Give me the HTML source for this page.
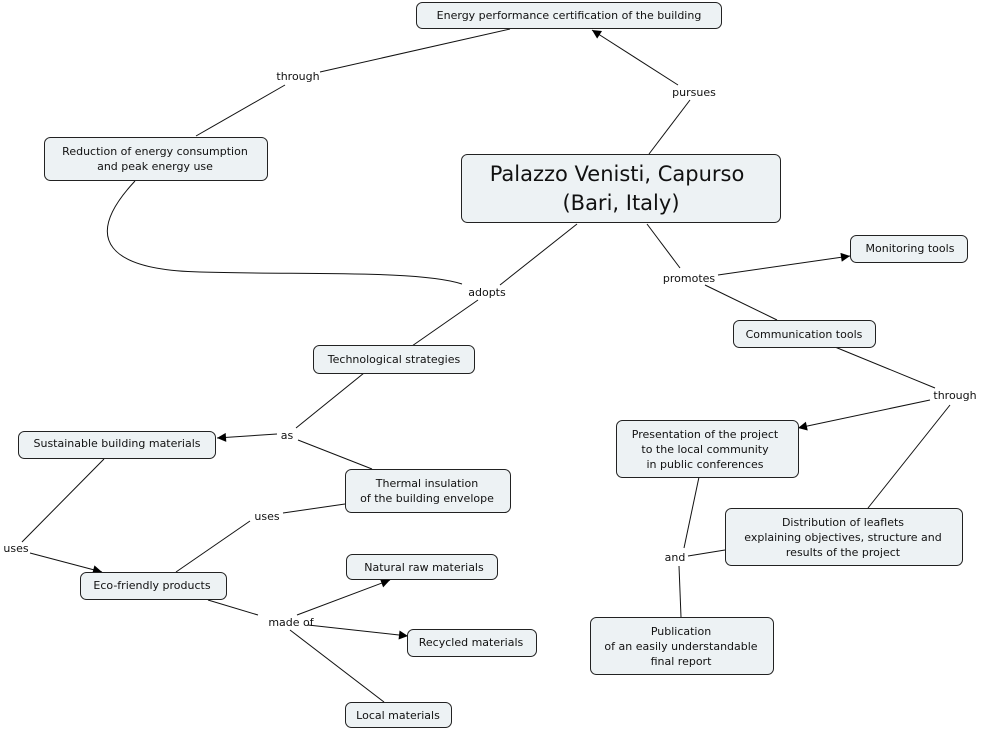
<!DOCTYPE html>
<html><head><meta charset="utf-8"><style>
body{margin:0;background:#fff}
svg{display:block}
text{font-family:"DejaVu Sans","Liberation Sans",sans-serif;font-size:11px;fill:#111}
.n{fill:#edf2f4;stroke:#222;stroke-width:1}
.l{stroke:#111;stroke-width:1;fill:none}
.lb{fill:#fff}
</style></head><body>
<svg width="982" height="729" viewBox="0 0 982 729" xmlns="http://www.w3.org/2000/svg">
<defs><marker id="a" viewBox="0 0 10 10" refX="10" refY="5" markerWidth="11" markerHeight="9" markerUnits="userSpaceOnUse" orient="auto"><path d="M0,0L10,5L0,10z" fill="#000"/></marker></defs>
<g class="l">
<line x1="196" y1="136" x2="285" y2="85"/>
<line x1="320" y1="72" x2="510" y2="29"/>
<line x1="649" y1="154" x2="690" y2="100"/>
<line x1="678" y1="85" x2="592" y2="30" marker-end="url(#a)"/>
<line x1="577" y1="224" x2="500" y2="285"/>
<path d="M462,284 C420,270 300,275 200,272 C110,270 80,240 135,181"/>
<line x1="478" y1="300" x2="412" y2="346"/>
<line x1="647" y1="224" x2="680" y2="268"/>
<line x1="718" y1="275" x2="850" y2="256" marker-end="url(#a)"/>
<line x1="705" y1="285" x2="777" y2="320"/>
<line x1="835" y1="347" x2="935" y2="388"/>
<line x1="930" y1="400" x2="798" y2="428" marker-end="url(#a)"/>
<line x1="950" y1="405" x2="868" y2="508"/>
<line x1="364" y1="373" x2="296" y2="428"/>
<line x1="277" y1="434" x2="217" y2="438" marker-end="url(#a)"/>
<line x1="298" y1="440" x2="372" y2="469"/>
<line x1="104" y1="459" x2="22" y2="542"/>
<line x1="30" y1="553" x2="102" y2="572" marker-end="url(#a)"/>
<line x1="176" y1="572" x2="250" y2="521"/>
<line x1="283" y1="513" x2="345" y2="504"/>
<line x1="208" y1="600" x2="258" y2="615"/>
<line x1="297" y1="615" x2="390" y2="580" marker-end="url(#a)"/>
<line x1="308" y1="625" x2="408" y2="636" marker-end="url(#a)"/>
<line x1="290" y1="630" x2="384" y2="702"/>
<line x1="699" y1="477" x2="684" y2="548"/>
<line x1="688" y1="556" x2="725" y2="550"/>
<line x1="679" y1="566" x2="681" y2="617"/>
</g>
<g class="n">
<rect x="416.5" y="2.5" width="305" height="26" rx="6"/>
<rect x="461.5" y="154.5" width="319" height="68" rx="6"/>
<rect x="44.5" y="137.5" width="223" height="43" rx="6"/>
<rect x="850.5" y="235.5" width="117" height="27" rx="6"/>
<rect x="733.5" y="320.5" width="142" height="27" rx="6"/>
<rect x="313.5" y="345.5" width="161" height="28" rx="6"/>
<rect x="18.5" y="431.5" width="197" height="27" rx="6"/>
<rect x="345.5" y="469.5" width="165" height="43" rx="6"/>
<rect x="616.5" y="420.5" width="182" height="57" rx="6"/>
<rect x="725.5" y="508.5" width="237" height="57" rx="6"/>
<rect x="80.5" y="572.5" width="146" height="27" rx="6"/>
<rect x="346.5" y="554.5" width="151" height="25" rx="6"/>
<rect x="407.5" y="629.5" width="129" height="27" rx="6"/>
<rect x="345.5" y="702.5" width="106" height="25" rx="6"/>
<rect x="590.5" y="617.5" width="183" height="57" rx="6"/>
</g>
<g text-anchor="middle">
<text x="569" y="19">Energy performance certification of the building</text>
<text x="617" y="181" style="font-size:21px">Palazzo Venisti, Capurso</text>
<text x="621" y="210" style="font-size:21px">(Bari, Italy)</text>
<text x="155" y="155">Reduction of energy consumption</text>
<text x="155" y="170">and peak energy use</text>
<text x="910" y="252">Monitoring tools</text>
<text x="804" y="338">Communication tools</text>
<text x="394" y="363">Technological strategies</text>
<text x="117" y="447">Sustainable building materials</text>
<text x="427" y="487">Thermal insulation</text>
<text x="427" y="502">of the building envelope</text>
<text x="705" y="438">Presentation of the project</text>
<text x="705" y="453">to the local community</text>
<text x="705" y="468">in public conferences</text>
<text x="843" y="526">Distribution of leaflets</text>
<text x="843" y="541">explaining objectives, structure and</text>
<text x="843" y="556">results of the project</text>
<text x="152" y="589">Eco-friendly products</text>
<text x="424" y="571">Natural raw materials</text>
<text x="471" y="646">Recycled materials</text>
<text x="398" y="719">Local materials</text>
<text x="681" y="635">Publication</text>
<text x="681" y="650">of an easily understandable</text>
<text x="681" y="665">final report</text>
<text x="298" y="80">through</text>
<text x="694" y="96">pursues</text>
<text x="487" y="296">adopts</text>
<text x="689" y="282">promotes</text>
<text x="955" y="399">through</text>
<text x="287" y="439">as</text>
<text x="267" y="520">uses</text>
<text x="16" y="552">uses</text>
<text x="291" y="626">made of</text>
<text x="675" y="561">and</text>
</g>
</svg>
</body></html>
